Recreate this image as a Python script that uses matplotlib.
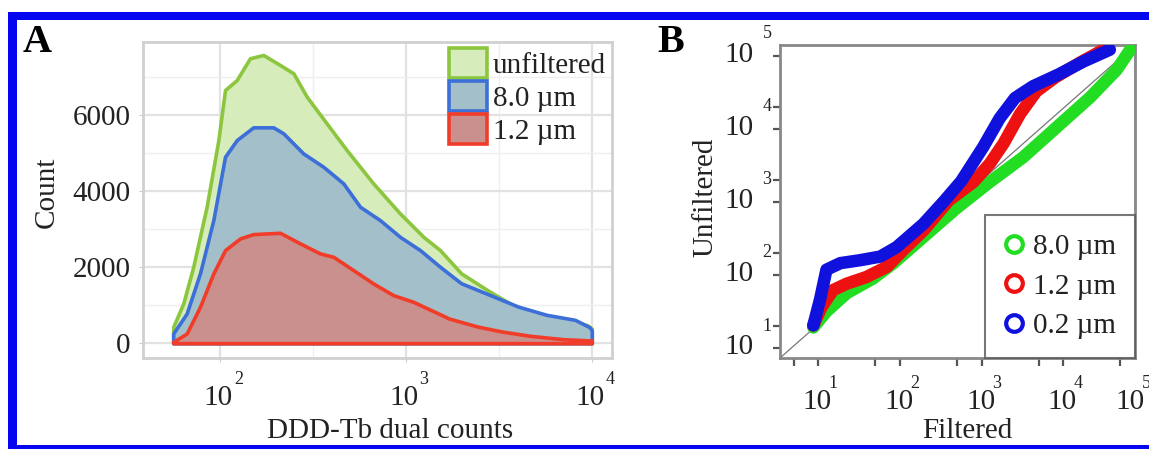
import matplotlib
matplotlib.use('Agg')
import matplotlib.pyplot as plt
from matplotlib.patches import Patch, Rectangle
from matplotlib.lines import Line2D
from matplotlib.ticker import FixedLocator, NullFormatter

plt.rcParams['font.family'] = ['Liberation Serif', 'DejaVu Serif']

W, H, DPI = 1149, 449, 100

# ---------------- Panel A data (DDD-Tb dual counts histogram) ----------------
unf_x = [55.7, 63.1, 71.4, 84.3, 97.5, 105.9, 122.5, 144.2, 170.2, 209.4, 247.2, 291.7,
         373.3, 478.6, 665.3, 926.8, 1239, 1524, 1977, 2818, 4009, 5715, 8128, 9484, 10000]
unf_y = [429, 1045, 2008, 3587, 5342, 6658, 6921, 7492, 7579, 7316, 7097, 6482,
         5781, 5079, 4202, 3413, 2797, 2447, 1839, 1358, 920, 700, 569, 470, 380]

f8_x = [55.7, 65.8, 77.6, 91.6, 105.9, 122.5, 150.3, 192.8, 218.3, 279.3, 358.1, 459.2,
        564.9, 722.8, 926.8, 1189, 1524, 1977, 2818, 4009, 5715, 8128, 9727, 10000]
f8_y = [254, 780, 1834, 3237, 4903, 5342, 5676, 5676, 5518, 4991, 4640, 4202,
        3587, 3237, 2797, 2447, 2008, 1577, 1270, 963, 745, 613, 420, 330]

f12_x = [55.7, 65.8, 77.6, 91.6, 105.9, 127.6, 150.3, 209.4, 268.5, 343.6, 405.5, 520,
         665.3, 853, 1094, 1524, 1698, 2421, 3273, 4667, 7000, 10000]
f12_y = [34, 254, 955, 1834, 2447, 2755, 2868, 2903, 2624, 2361, 2271, 1921,
         1571, 1263, 1087, 760, 650, 438, 307, 193, 105, 70]

a_labels = ['unfiltered', '8.0 µm', '1.2 µm']
a_yticks = [0, 2000, 4000, 6000]
a_xticks = [100, 1000, 10000]
a_xexp = ['2', '3', '4']

# ---------------- Panel B data (QQ: filtered vs unfiltered) ----------------
q8_x = [8.7, 12.6, 22.4, 46.8, 83.2, 195, 490, 1259, 3236, 8318, 21380, 44668, 66069]
q8_y = [9.55, 15.8, 28.2, 44.7, 72.4, 166, 407, 933, 2042, 5248, 13490, 31623, 60256]

q12_x = [8.7, 11.0, 15.1, 22.4, 38.9, 69.2, 110, 195, 398, 794, 1259, 1862, 2951, 4677,
         7943, 15849, 32359]
q12_y = [10.2, 18.2, 30.9, 38.0, 46.8, 64.6, 110, 204, 525, 933, 1660, 3162, 7943, 16218,
         25119, 39811, 61660]

q02_x = [8.7, 10.5, 12.6, 18.6, 32.4, 57.5, 91.2, 195, 355, 562, 1047, 1660, 2570, 4266,
         8710, 17783, 37154]
q02_y = [10.2, 22.9, 58.9, 72.4, 79.4, 89.1, 120, 251, 525, 955, 2818, 6918, 13183, 19055,
         27542, 41687, 60256]

b_labels = ['8.0 µm', '1.2 µm', '0.2 µm']
b_ticks = [10, 100, 1000, 10000, 100000]
b_exp = ['1', '2', '3', '4', '5']
b_minor = [5, 50, 500, 5000, 50000]

# ---------------- figure ----------------
fig = plt.figure(figsize=(W / DPI, H / DPI), dpi=DPI)
fig.patch.set_facecolor('white')


def rect(x0, y0, x1, y1):
    return [x0 / W, 1 - y1 / H, (x1 - x0) / W, (y1 - y0) / H]


FS = 21
SUP = 13
TXT = '#222222'

# ---- Panel A ----
axA = fig.add_axes(rect(143, 42, 612, 358))
cols = [('#d6ecbb', '#8cc63f'), ('#a3bfca', '#3d6fd8'), ('#c9908e', '#f03c28')]
for xs, ys, (fc, ec) in zip([unf_x, f8_x, f12_x], [unf_y, f8_y, f12_y], cols):
    axA.fill_between(xs, 0, ys, facecolor=fc, edgecolor=ec, linewidth=2.6, zorder=3)
axA.set_xscale('log')
axA.set_xlim(38.3, 12850)
axA.set_ylim(-390, 7920)
axA.xaxis.set_major_locator(FixedLocator(a_xticks))
axA.xaxis.set_minor_locator(FixedLocator([316.2, 3162]))
axA.xaxis.set_major_formatter(NullFormatter())
axA.xaxis.set_minor_formatter(NullFormatter())
axA.set_yticks(a_yticks)
axA.set_yticklabels([str(v) for v in a_yticks], fontsize=FS, color=TXT)
axA.yaxis.set_minor_locator(FixedLocator([1000, 3000, 5000, 7000]))
axA.grid(True, which='major', color='#e2e2e2', lw=1.6, zorder=0)
axA.grid(True, which='minor', color='#efefef', lw=1.0, zorder=0)
axA.set_axisbelow(True)
axA.tick_params(which='both', length=3, color='#cccccc', pad=6)
axA.tick_params(which='minor', length=0)
for s in axA.spines.values():
    s.set_color('#d0d0d0')
    s.set_linewidth(2)
for xt, e in zip(a_xticks, a_xexp):
    axA.annotate('10', xy=(xt, 0), xycoords=('data', 'axes fraction'),
                 xytext=(-2, -40), textcoords='offset pixels', ha='center', va='center',
                 fontsize=FS, color=TXT)
    axA.annotate(e, xy=(xt, 0), xycoords=('data', 'axes fraction'),
                 xytext=(18, -22), textcoords='offset pixels', ha='center', va='center',
                 fontsize=SUP, color=TXT)
fig.text(47 / W, 1 - 192 / H, 'Count', rotation=90, ha='center', va='center', fontsize=FS,
         color=TXT)
fig.text(390 / W, 1 - 431 / H, 'DDD-Tb dual counts', ha='center', va='center', fontsize=FS,
         color=TXT)
fig.text(23 / W, 1 - 43 / H, 'A', ha='left', va='center', fontsize=29, fontweight='bold')

handlesA = [Patch(facecolor=fc, edgecolor=ec, linewidth=2.6) for fc, ec in cols]
axA.legend(handlesA, a_labels, loc='upper right', bbox_to_anchor=(1.0, 1.0),
           frameon=False, fontsize=FS, handlelength=1.3, handleheight=1.2,
           handletextpad=0.2, labelspacing=0.08, borderpad=0.2, borderaxespad=0.0,
           labelcolor=TXT)

# ---- Panel B ----
axB = fig.add_axes(rect(780, 45, 1135, 358))
axB.set_xscale('log')
axB.set_yscale('log')
axB.set_xlim(3.4, 75500)
axB.set_ylim(3.65, 69800)
axB.plot([0, 1], [0, 1], transform=axB.transAxes, color='#777777', lw=0.9, zorder=2)
for xs, ys, c in zip([q8_x, q12_x, q02_x], [q8_y, q12_y, q02_y], ['#22dd22', '#ee1111', '#1111dd']):
    axB.plot(xs, ys, color=c, lw=9, solid_capstyle='round', solid_joinstyle='round', zorder=3)
ticksB = sorted(b_ticks[:4] + b_minor)
axB.xaxis.set_major_locator(FixedLocator(ticksB))
axB.yaxis.set_major_locator(FixedLocator(ticksB))
axB.xaxis.set_minor_locator(FixedLocator([]))
axB.yaxis.set_minor_locator(FixedLocator([]))
axB.xaxis.set_major_formatter(NullFormatter())
axB.yaxis.set_major_formatter(NullFormatter())
axB.tick_params(axis='x', direction='out', length=6, width=1.6, color='#555555')
axB.tick_params(axis='y', direction='out', length=5, width=1.6, color='#555555')
for s in axB.spines.values():
    s.set_color('#888888')
    s.set_linewidth(2)
for i, (t, e) in enumerate(zip(b_ticks, b_exp)):
    dx = -15 if i == len(b_ticks) - 1 else -1
    axB.annotate('10', xy=(t, 0), xycoords=('data', 'axes fraction'),
                 xytext=(dx, -44), textcoords='offset pixels', ha='center', va='center',
                 fontsize=FS, color=TXT, annotation_clip=False)
    axB.annotate(e, xy=(t, 0), xycoords=('data', 'axes fraction'),
                 xytext=(dx + 16, -25), textcoords='offset pixels', ha='center', va='center',
                 fontsize=SUP, color=TXT, annotation_clip=False)
    axB.annotate('10', xy=(0, t), xycoords=('axes fraction', 'data'),
                 xytext=(-26, -21), textcoords='offset pixels', ha='right', va='center',
                 fontsize=FS, color=TXT, annotation_clip=False)
    axB.annotate(e, xy=(0, t), xycoords=('axes fraction', 'data'),
                 xytext=(-13, 0), textcoords='offset pixels', ha='center', va='center',
                 fontsize=SUP, color=TXT, annotation_clip=False)
fig.text(705 / W, 1 - 197 / H, 'Unfiltered', rotation=90, ha='center', va='center',
         fontsize=FS, color=TXT)
fig.text(967 / W, 1 - 431 / H, 'Filtered', ha='center', va='center', fontsize=FS, color=TXT)
fig.text(657 / W, 1 - 43 / H, 'B', ha='left', va='center', fontsize=29, fontweight='bold')

handlesB = [Line2D([], [], marker='o', ls='none', mfc='none', mec=c, mew=3, ms=12)
            for c in ['#22dd22', '#ee1111', '#1111dd']]
legB = axB.legend(handlesB, b_labels, loc='lower right', bbox_to_anchor=(1.0, 0.0),
                  fontsize=FS, frameon=True, fancybox=False, borderaxespad=0.0,
                  handlelength=0.7, handletextpad=0.3, labelspacing=0.45, borderpad=0.65,
                  labelcolor=TXT)
legB.get_frame().set_edgecolor('#555555')
legB.get_frame().set_linewidth(1.5)

# ---- blue border ----
blue = '#0505f0'
for (x0, y0, x1, y1) in [(8, 12, W, 20), (8, 12, 17, H), (8, 445, W, H)]:
    fig.add_artist(Rectangle((x0 / W, 1 - y1 / H), (x1 - x0) / W, (y1 - y0) / H,
                             transform=fig.transFigure, facecolor=blue, edgecolor='none',
                             zorder=10))

fig.savefig('out.png', dpi=DPI, facecolor='white')
